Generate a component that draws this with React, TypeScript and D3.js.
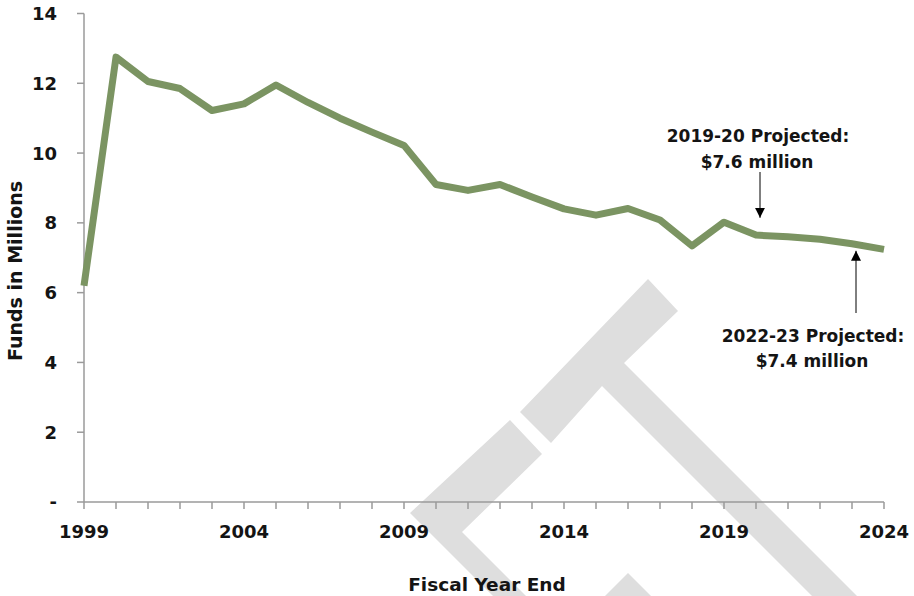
import React from "react";
import * as d3 from "d3";

const years: number[] = [1999, 2000, 2001, 2002, 2003, 2004, 2005, 2006, 2007, 2008, 2009, 2010, 2011, 2012, 2013, 2014, 2015, 2016, 2017, 2018, 2019, 2020, 2021, 2022, 2023, 2024];
const funds: number[] = [6.2, 12.75, 12.05, 11.85, 11.22, 11.41, 11.95, 11.45, 11.0, 10.6, 10.22, 9.1, 8.93, 9.1, 8.74, 8.4, 8.22, 8.41, 8.08, 7.34, 8.02, 7.65, 7.6, 7.53, 7.4, 7.24];
const yTicks: number[] = [0, 2, 4, 6, 8, 10, 12, 14];
const xLabelYears: number[] = [1999, 2004, 2009, 2014, 2019, 2024];
const annotations = [
  { year: 2020, value: 7.6, lines: ["2019-20 Projected:", "$7.6 million"], above: true },
  { year: 2023, value: 7.4, lines: ["2022-23 Projected:", "$7.4 million"], above: false },
];

const W = 914;
const H = 596;
const FONT = "'DejaVu Sans', sans-serif";
const TXT = "#141414";

export default function App() {
  const x = d3.scaleLinear().domain([1999, 2024]).range([84, 884]);
  const y = d3.scaleLinear().domain([0, 14]).range([502, 13.5]);
  const line = d3
    .line<number>()
    .x((_, i) => x(years[i]))
    .y((d) => y(d));
  const path = line(funds) || "";
  const axisColor = "#9a9a9a";

  return (
    <svg width={W} height={H} style={{ position: "absolute", left: 0, top: 0, background: "#fff" }}>
      <defs>
        <marker id="ah" viewBox="0 0 10 10" refX="10" refY="5" markerWidth="10" markerHeight="10" markerUnits="userSpaceOnUse" orient="auto">
          <path d="M0,0 L10,5 L0,10 z" fill="#000" />
        </marker>
      </defs>
      {/* watermark */}
      <g fill="#dedede">
        <polygon points="648,279 678,311 624,363 857,596 812,596 602,386 551,443 520,412" />
        <polygon points="510,420 542,454 462,532 526,596 493,596 410,513" />
        <polygon points="628,573 651,596 605,596" />
      </g>
      {/* y axis */}
      <line x1={84} x2={84} y1={y(14)} y2={y(0)} stroke={axisColor} strokeWidth={1.5} />
      {yTicks.map((t) => (
        <g key={t}>
          <line x1={77} x2={84} y1={y(t)} y2={y(t)} stroke={axisColor} strokeWidth={1.5} />
          <text x={57} y={y(t)} dy="0.36em" textAnchor="end" fontFamily={FONT} fontWeight={700} fontSize={18} fill={TXT}>
            {t === 0 ? "-" : t}
          </text>
        </g>
      ))}
      {/* x axis */}
      <line x1={84} x2={884} y1={y(0)} y2={y(0)} stroke={axisColor} strokeWidth={1.5} />
      {years.map((yr) => (
        <line key={yr} x1={x(yr)} x2={x(yr)} y1={y(0)} y2={y(0) + 7} stroke={axisColor} strokeWidth={1.5} />
      ))}
      {xLabelYears.map((yr) => (
        <text key={yr} x={x(yr)} y={538} textAnchor="middle" fontFamily={FONT} fontWeight={700} fontSize={18} fill={TXT}>
          {yr}
        </text>
      ))}
      {/* axis titles */}
      <text x={487} y={591} textAnchor="middle" fontFamily={FONT} fontWeight={700} fontSize={18.5} fill={TXT}>
        Fiscal Year End
      </text>
      <text transform="translate(22,271) rotate(-90)" textAnchor="middle" fontFamily={FONT} fontWeight={700} fontSize={19} fill={TXT}>
        Funds in Millions
      </text>
      {/* data line */}
      <path d={path} fill="none" stroke="#7b9462" strokeWidth={7} strokeLinejoin="round" />
      {/* annotations */}
      {annotations.map((a) => {
        const ax = x(a.year) + 4;
        if (a.above) {
          return (
            <g key={a.year}>
              <line x1={ax} x2={ax} y1={172} y2={y(a.value) - 19} stroke="#000" strokeWidth={1} markerEnd="url(#ah)" />
              <text x={758} y={142} textAnchor="middle" fontFamily={FONT} fontWeight={700} fontSize={17} fill={TXT}>{a.lines[0]}</text>
              <text x={757} y={168} textAnchor="middle" fontFamily={FONT} fontWeight={700} fontSize={17} fill={TXT}>{a.lines[1]}</text>
            </g>
          );
        }
        return (
          <g key={a.year}>
            <line x1={ax} x2={ax} y1={313} y2={y(a.value) + 7} stroke="#000" strokeWidth={1} markerEnd="url(#ah)" />
            <text x={813} y={342} textAnchor="middle" fontFamily={FONT} fontWeight={700} fontSize={17} fill={TXT}>{a.lines[0]}</text>
            <text x={812} y={367} textAnchor="middle" fontFamily={FONT} fontWeight={700} fontSize={17} fill={TXT}>{a.lines[1]}</text>
          </g>
        );
      })}
    </svg>
  );
}
